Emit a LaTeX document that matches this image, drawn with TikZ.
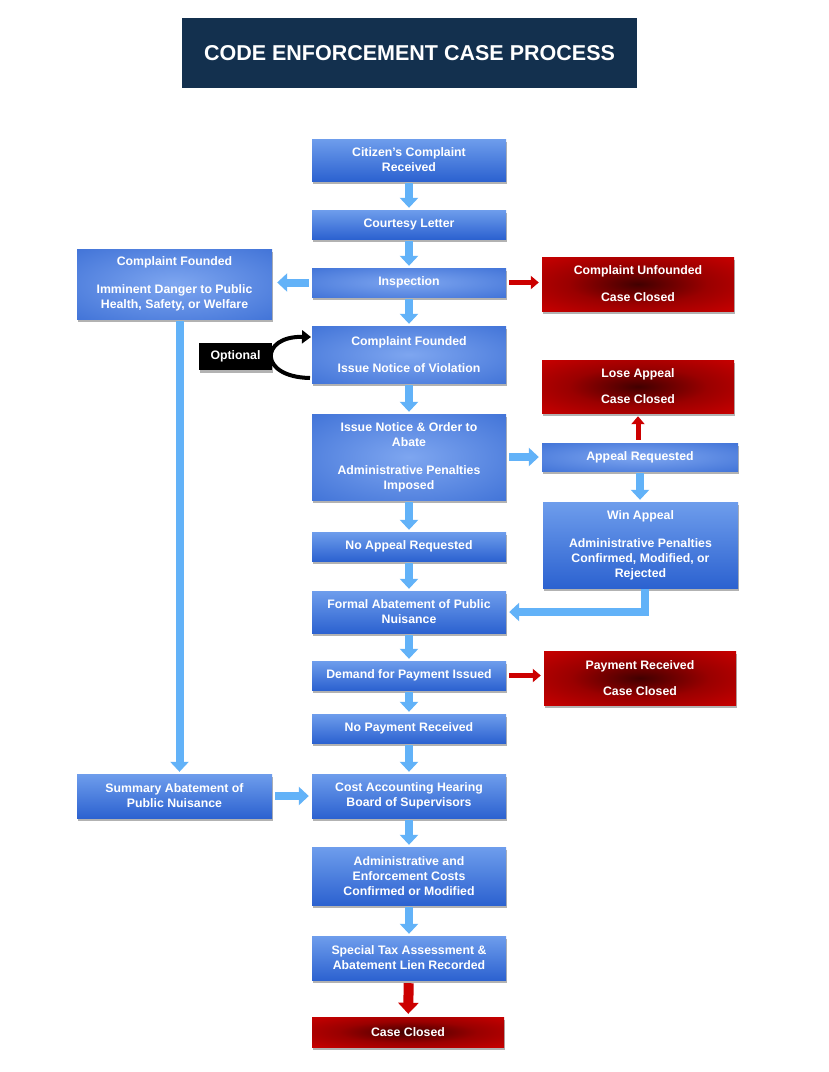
\documentclass[tikz,border=0pt]{standalone}
\usepackage{fontspec}
\setmainfont{Liberation Sans}
\usetikzlibrary{arrows.meta,shadows,positioning}
\definecolor{titlebg}{HTML}{13304E}
\definecolor{bCen}{HTML}{7EA6F0}
\definecolor{bEdge}{HTML}{2A60CE}
\definecolor{bTop}{HTML}{6E9DEC}
\definecolor{bBot}{HTML}{2C62D0}
\definecolor{rCen}{HTML}{420000}
\definecolor{rMid}{HTML}{9A0000}
\definecolor{rEdge}{HTML}{E80000}
\definecolor{arrBlue}{HTML}{62B2F8}
\definecolor{arrRed}{HTML}{CC0000}
\pgfdeclareradialshading{bradial}{\pgfpointorigin}{color(0bp)=(bCen); color(50bp)=(bEdge); color(75bp)=(bEdge)}
\pgfdeclareradialshading{rradial}{\pgfpointorigin}{color(0bp)=(rCen); color(18bp)=(rMid); color(48bp)=(rEdge); color(75bp)=(rEdge)}
\tikzset{
  boxbase/.style={text=white, font=\bfseries\fontsize{12.3}{15}\selectfont, align=center, inner sep=0pt,
    minimum width=194pt, drop shadow={shadow xshift=1pt, shadow yshift=-2.5pt, fill=black, opacity=0.3}},
  vbox/.style={boxbase, top color=bTop, bottom color=bBot},
  rbox/.style={boxbase, shading=bradial},
  redbox/.style={boxbase, shading=rradial},
  barrow/.style={draw=arrBlue, line width=8pt, -{Triangle[width=18pt,length=10pt]}, shorten <=2pt, shorten >=2pt},
  rarrow/.style={draw=arrRed, line width=5pt, -{Triangle[width=13pt,length=8pt]}, shorten <=3pt, shorten >=3pt},
  bigrarrow/.style={draw=arrRed, line width=10pt, -{Triangle[width=20pt,length=11pt]}, shorten <=3pt, shorten >=3pt},
}
\begin{document}
\begin{tikzpicture}[x=1pt,y=-1pt]
\useasboundingbox[fill=white] (0,0) rectangle (829,1072);
% title
\node[fill=titlebg, minimum width=455pt, minimum height=70pt, text=white,
  font=\bfseries\fontsize{21.5}{24}\selectfont] (title) at (409.5,53) {CODE ENFORCEMENT CASE PROCESS};
% main column
\node[vbox, minimum height=42pt] (c1) at (409,160) {Citizen's Complaint\\Received};
\node[vbox, minimum height=29pt] (c2) at (409,224.5) {Courtesy Letter};
\node[rbox, minimum height=29pt] (insp) at (409,282.5) {Inspection};
\node[rbox, minimum height=57pt] (cf) at (409,354.5) {Complaint Founded\\[12pt]Issue Notice of Violation};
\node[rbox, minimum height=86pt] (ino) at (409,457) {Issue Notice \& Order to\\Abate\\[13pt]Administrative Penalties\\Imposed};
\node[vbox, minimum height=29pt] (nar) at (409,546.5) {No Appeal Requested};
\node[vbox, minimum height=42pt] (fa) at (409,612) {Formal Abatement of Public\\Nuisance};
\node[vbox, minimum height=29pt] (dp) at (409,675.5) {Demand for Payment Issued};
\node[vbox, minimum height=29pt] (npr) at (409,728.5) {No Payment Received};
\node[vbox, minimum height=44pt] (cah) at (409,796) {Cost Accounting Hearing\\Board of Supervisors};
\node[vbox, minimum height=58pt] (aec) at (409,876) {Administrative and\\Enforcement Costs\\Confirmed or Modified};
\node[vbox, minimum height=44pt] (sta) at (409,958) {Special Tax Assessment \&\\Abatement Lien Recorded};
\node[redbox, minimum width=192pt, minimum height=30pt] (cc) at (408,1032) {Case Closed};
% left column
\node[rbox, minimum width=195pt, minimum height=70pt] (lf) at (174.5,284) {Complaint Founded\\[13pt]Imminent Danger to Public\\Health, Safety, or Welfare};
\node[vbox, minimum width=195pt, minimum height=44pt] (sa) at (174.5,796) {Summary Abatement of\\Public Nuisance};
\node[boxbase, fill=black, minimum width=73pt, minimum height=27pt] (opt) at (235.5,356.5) {Optional};
% right column
\node[redbox, minimum width=192pt, minimum height=54pt] (cu) at (638,284) {Complaint Unfounded\\[12pt]Case Closed};
\node[redbox, minimum width=192pt, minimum height=53pt] (la) at (638,386.5) {Lose Appeal\\[11pt]Case Closed};
\node[rbox, minimum width=196pt, minimum height=28pt] (ar) at (640,457) {Appeal Requested};
\node[vbox, minimum width=195pt, minimum height=86pt] (wa) at (640.5,545) {Win Appeal\\[13pt]Administrative Penalties\\Confirmed, Modified, or\\Rejected};
\node[redbox, minimum width=192pt, minimum height=54pt] (pr) at (640,678) {Payment Received\\[11pt]Case Closed};
% main arrows
\draw[barrow] (c1) -- (c2);
\draw[barrow] (c2) -- (insp);
\draw[barrow] (insp) -- (cf);
\draw[barrow] (cf) -- (ino);
\draw[barrow] (ino) -- (nar);
\draw[barrow] (nar) -- (fa);
\draw[barrow] (fa) -- (dp);
\draw[barrow] (dp) -- (npr);
\draw[barrow] (npr) -- (cah);
\draw[barrow] (cah) -- (aec);
\draw[barrow] (aec) -- (sta);
\draw[bigrarrow] (sta) -- (cc);
% side arrows
\draw[barrow, shorten <=3pt, shorten >=5pt] (insp.west) -- (insp.west -| lf.east);
\draw[barrow] ([xshift=5pt]lf.south) -- ([xshift=5pt]sa.north);
\draw[barrow, shorten <=3pt, shorten >=3pt] (sa.east) -- (cah.west);
\draw[barrow, shorten <=3pt, shorten >=3pt] (ino.east |- ar.west) -- (ar.west);
\draw[rarrow] (insp.east) -- (insp.east -| cu.west);
\draw[rarrow] (ar.north -| la.south) -- (la.south);
\draw[barrow] (ar.south) -- (ar.south |- wa.north);
\draw[barrow, shorten <=1pt, shorten >=3pt] ([xshift=4pt]wa.south) |- (fa.east);
\draw[rarrow] (dp.east) -- (dp.east -| pr.west);
% optional curved arrow
\coordinate (optS) at (310,378);
\coordinate (optE) at (311,337);
\draw[black, line width=4pt, -{Triangle[width=13pt,length=9pt]}] (optS) .. controls (258,377) and (260,336) .. (optE);
\end{tikzpicture}
\end{document}
